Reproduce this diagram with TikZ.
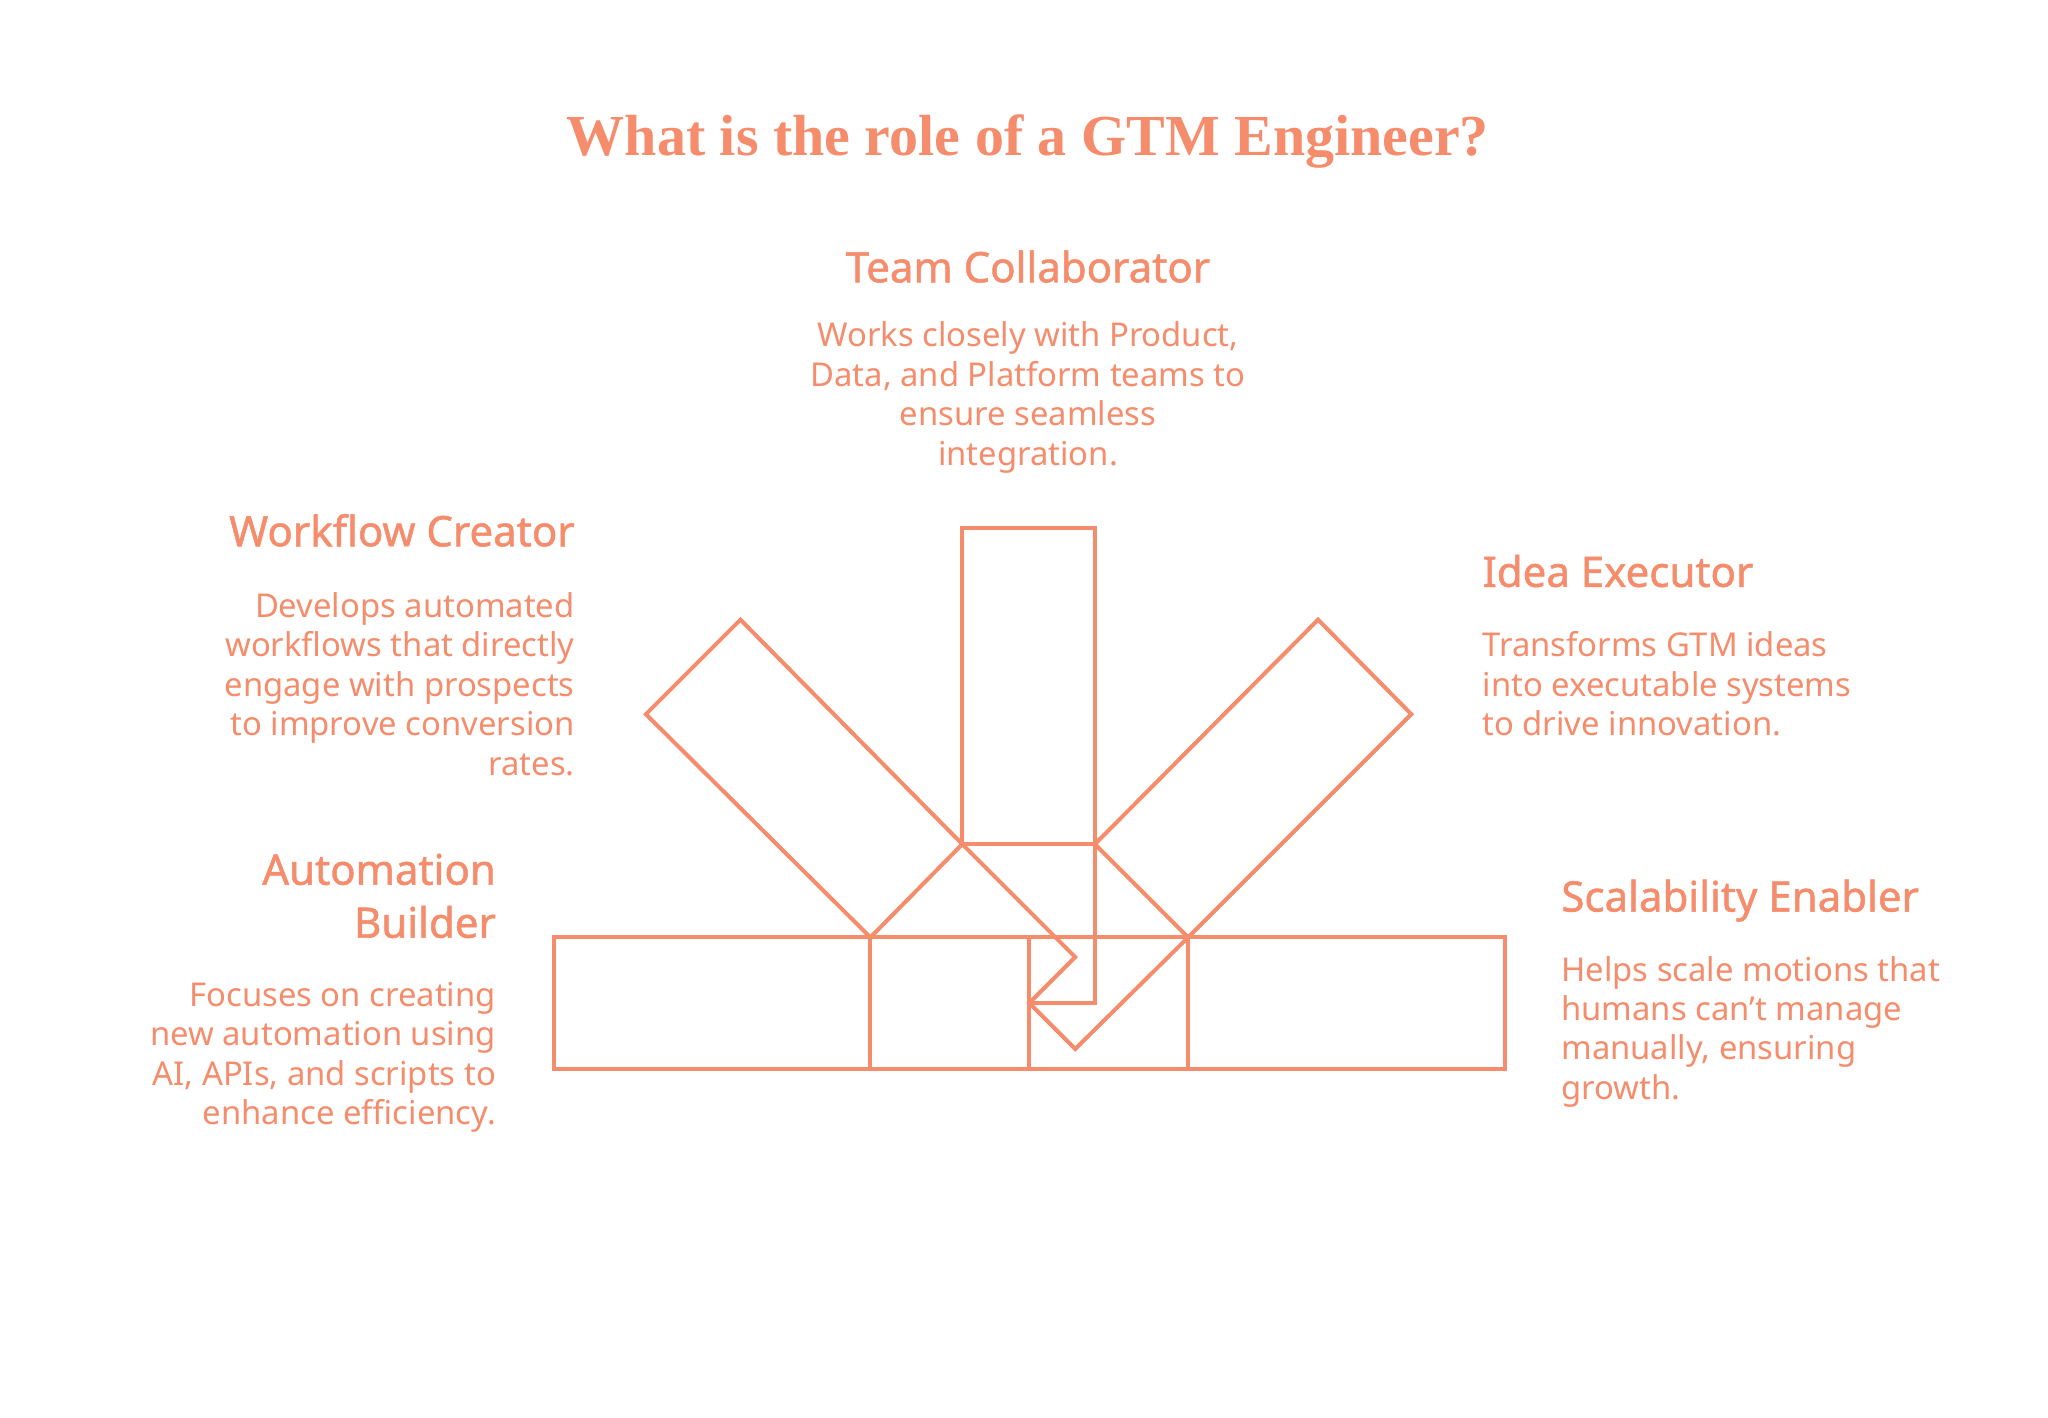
\documentclass[tikz,border=0pt]{standalone}
\usepackage{fontspec}
\setmainfont{Noto Sans}
\newfontfamily\hdfont{Noto Sans}[FakeBold=1.2]
\newfontfamily\titlefont{Liberation Serif}
\definecolor{acc}{HTML}{F58C6B}
\begin{document}
\begin{tikzpicture}[x=0.6564pt,y=-0.6564pt,
  sh/.style={draw=acc,line width=2pt,line join=miter},
  hd/.style={text=acc,font=\hdfont\fontsize{21}{25}\selectfont,inner sep=0pt},
  bd/.style={text=acc,font=\fontsize{16.4}{19.7}\selectfont,inner sep=0pt}]
\useasboundingbox (0,0) rectangle (1560,1080);
\fill[white] (0,0) rectangle (1560,1080);
% shapes
\draw[sh] (422,714) rectangle (1146,814);
\draw[sh] (663,714) -- (663,814) (784,714) -- (784,814) (905,714) -- (905,814);
\draw[sh] (733,643) -- (733,402) -- (834,402) -- (834,764) -- (784,764);
\draw[sh] (733,643) -- (834,643);
\draw[sh] (663,714) -- (492,544) -- (564,472) -- (733,643) -- (663,714);
\draw[sh] (733,643) -- (819,729) -- (784,764) -- (819,799) -- (905,714);
\draw[sh] (905,714) -- (1075,544) -- (1004,472) -- (834,643) -- (905,714);
% texts
\node[text=acc,font=\titlefont\bfseries\fontsize{29}{34}\selectfont,inner sep=0pt] (title) at (783,108) {What is the role of a GTM Engineer?};
\node[hd] (tc) at (783,203) {Team Collaborator};
\node[bd,align=center,anchor=north] (tcb) at (783,245) {Works closely with Product,\\Data, and Platform teams to\\ensure seamless\\integration.};
\node[hd,anchor=east] (wc) at (438,404) {Workflow Creator};
\node[bd,align=right,anchor=north east] (wcb) at (438,451) {Develops automated\\workflows that directly\\engage with prospects\\to improve conversion\\rates.};
\node[hd,anchor=west] (ie) at (1129,435) {Idea Executor};
\node[bd,align=left,anchor=north west] (ieb) at (1129,481) {Transforms GTM ideas\\into executable systems\\to drive innovation.};
\node[hd,anchor=north east,align=right,font=\hdfont\fontsize{21}{26.5}\selectfont] (ab) at (378,650) {Automation\\Builder};
\node[bd,align=right,anchor=north east] (abb) at (378,748) {Focuses on creating\\new automation using\\AI, APIs, and scripts to\\enhance efficiency.};
\node[hd,anchor=west] (se) at (1189,686) {Scalability Enabler};
\node[bd,align=left,anchor=north west] (seb) at (1189,728) {Helps scale motions that\\humans can\symbol{39}t manage\\manually, ensuring\\growth.};
\end{tikzpicture}
\end{document}
